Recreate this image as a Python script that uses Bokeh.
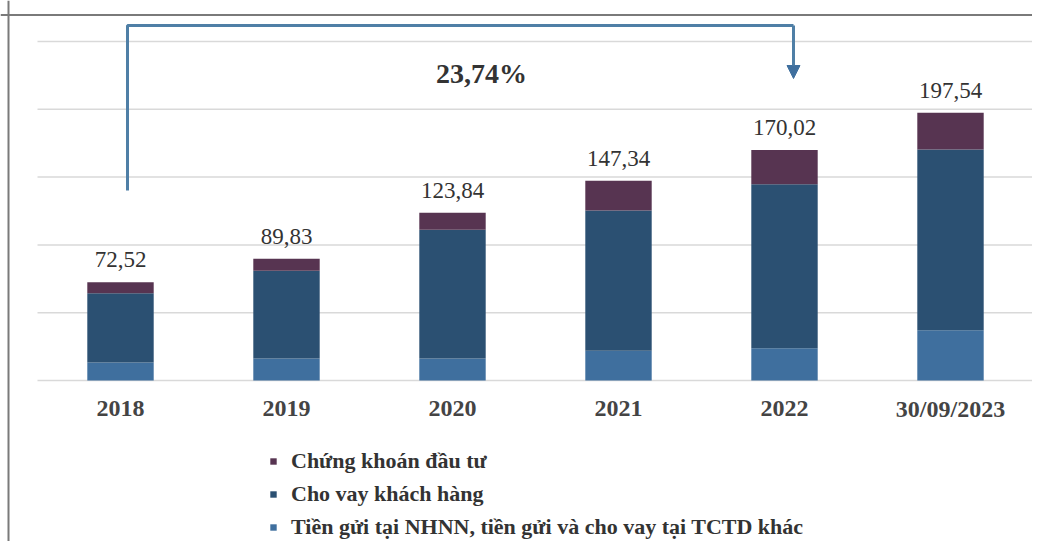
from bokeh.plotting import figure
from bokeh.models import Range1d, Span, Arrow, NormalHead, Legend, LegendItem, ColumnDataSource
from bokeh.core.properties import value
from bokeh.embed import file_html
from bokeh.resources import INLINE

# ---- data ----
categories = ["2018", "2019", "2020", "2021", "2022", "30/09/2023"]
tien_gui = [13.3, 16.3, 16.3, 22.0, 23.7, 37.0]
cho_vay = [51.1, 64.6, 94.9, 103.3, 121.1, 133.3]
chung_khoan = [8.1, 8.9, 12.6, 22.0, 25.2, 27.2]
totals = [72.52, 89.83, 123.84, 147.34, 170.02, 197.54]
total_labels = ["72,52", "89,83", "123,84", "147,34", "170,02", "197,54"]
growth_label = "23,74%"
grid_values = [0, 50, 100, 150, 200, 250]
series_names = ["Tiền gửi tại NHNN, tiền gửi và cho vay tại TCTD khác",
                "Cho vay khách hàng", "Chứng khoán đầu tư"]

colors = ["#3f6f9e", "#2b5072", "#573451"]
SERIF = "Liberation Serif"

W, H = 1032, 541
# pixel geometry -> data scale
PX_X = 166.0
PX_Y = 1.356
BASE = 380.0
x0 = -120.0 / PX_X           # left edge of figure
y_top = BASE / PX_Y
y_bot = -(H - BASE) / PX_Y

p = figure(width=W, height=H, output_backend="svg", toolbar_location=None,
           x_range=Range1d(x0, x0 + W / PX_X), y_range=Range1d(y_bot, y_top),
           min_border=0, min_border_left=0, min_border_right=0,
           min_border_top=0, min_border_bottom=0)
p.axis.visible = False
p.grid.visible = False
p.outline_line_color = None
p.background_fill_color = "white"
p.border_fill_color = "white"

xs = list(range(len(categories)))

# gridlines
p.segment(x0=[-0.5] * len(grid_values), x1=[5.5] * len(grid_values),
          y0=grid_values, y1=grid_values, line_color="#d9d9d9", line_width=1.5)

src = ColumnDataSource(dict(x=xs, tg=tien_gui, cv=cho_vay, ck=chung_khoan,
                            total=totals, lab=total_labels, cat=categories))
rs = p.vbar_stack(["tg", "cv", "ck"], x="x", width=0.4, source=src,
                  color=colors, line_color=None)

# total labels
p.text(x="x", y="total", text="lab", source=src, y_offset=-15,
       text_align="center", text_baseline="bottom",
       text_font=value(SERIF), text_font_size="23px", text_color="#333333")

# category labels
p.text(x="x", y=-28.0 / PX_Y, text="cat", source=src,
       text_align="center", text_baseline="middle",
       text_font=value(SERIF), text_font_size="24px", text_font_style="bold",
       text_color="#444444")

# growth connector
xa = (127 - 120) / PX_X
xb = (793 - 120) / PX_X
yl = (BASE - 190) / PX_Y
yt = (BASE - 25) / PX_Y
p.line(x=[xa, xa, xb], y=[yl, yt, yt], line_color="#4f7fa6", line_width=3)
p.add_layout(Arrow(end=NormalHead(size=13, fill_color="#3f6f9e", line_color="#3f6f9e"),
                   x_start=xb, y_start=yt, x_end=xb, y_end=(BASE - 78) / PX_Y,
                   line_color="#4f7fa6", line_width=3))
p.text(x=[(481 - 120) / PX_X], y=[(BASE - 73) / PX_Y], text=[growth_label],
       text_align="center", text_baseline="middle",
       text_font=value(SERIF), text_font_size="28px", text_font_style="bold",
       text_color="#333333")

# frame lines
p.add_layout(Span(location=(8 - 120) / PX_X, dimension="height",
                  line_color="#7a7a7a", line_width=2))
p.add_layout(Span(location=(BASE - 14.5) / PX_Y, dimension="width",
                  line_color="#7a7a7a", line_width=2))

legend = Legend(items=[LegendItem(label=series_names[2], renderers=[rs[2]]),
                       LegendItem(label=series_names[1], renderers=[rs[1]]),
                       LegendItem(label=series_names[0], renderers=[rs[0]])],
                location=(269, 1))
legend.glyph_width = 8
legend.glyph_height = 8
legend.label_height = 25
legend.spacing = 7
legend.padding = 0
legend.margin = 0
legend.label_standoff = 14
legend.border_line_color = None
legend.background_fill_alpha = 0
legend.label_text_font = SERIF
legend.label_text_font_size = "22px"
legend.label_text_font_style = "bold"
legend.label_text_color = "#333333"
p.add_layout(legend)

open("out.html", "w").write(file_html(p, INLINE))
